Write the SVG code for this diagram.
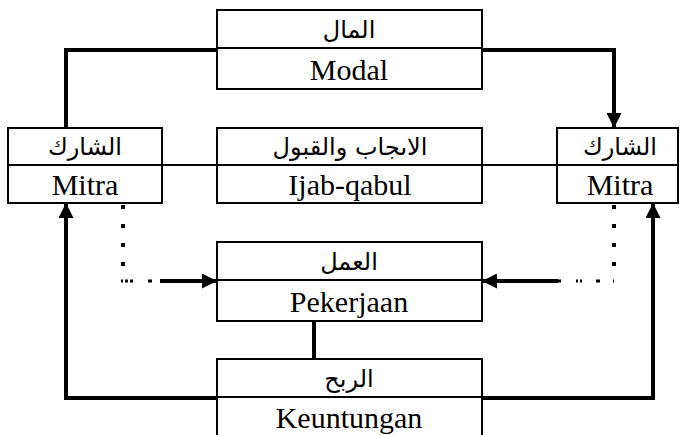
<svg xmlns="http://www.w3.org/2000/svg" width="682" height="435" viewBox="0 0 682 435">
  <defs>
    <style>
      .box { fill: #fff; stroke: #000; stroke-width: 2; }
      .div { stroke: #000; stroke-width: 2; }
      .lat { font-family: "Liberation Serif", "Times New Roman", serif; font-size: 30px; text-anchor: middle; fill: #000; }
      .ara { font-family: "DejaVu Sans", sans-serif; font-size: 24px; text-anchor: middle; fill: #000; }
      .thick { fill: none; stroke: #000; stroke-width: 4; }
      .thin { fill: none; stroke: #000; stroke-width: 2; }
      .dot { fill: none; stroke: #000; stroke-width: 4; stroke-dasharray: 4 15; }
      .doth { fill: none; stroke: #000; stroke-width: 3; }
    </style>
    <marker id="arr" viewBox="0 0 10 10" refX="10" refY="5" markerWidth="17" markerHeight="15" markerUnits="userSpaceOnUse" orient="auto">
      <path d="M0,0 L10,5 L0,10 Z" fill="#000"/>
    </marker>
  </defs>

  <!-- connectors -->
  <g id="connectors">
    <!-- capital to partners -->
    <polyline class="thick" points="217,50 66,50 66,128"/>
    <polyline class="thick" points="482,50 614,50 614,128" marker-end="url(#arr)"/>
    <!-- contract line through the partners -->
    <line class="thin" x1="162" y1="165" x2="217" y2="165"/>
    <line class="thin" x1="482" y1="165" x2="557" y2="165"/>
    <!-- profit back to partners -->
    <polyline class="thick" points="217,398 66,398 66,203" marker-end="url(#arr)"/>
    <polyline class="thick" points="482,398 653,398 653,203" marker-end="url(#arr)"/>
    <!-- work to profit -->
    <line class="thick" x1="314" y1="321" x2="314" y2="359"/>
    <!-- partners' work (dotted then solid) -->
    <line class="dot" x1="123" y1="205" x2="123" y2="268"/>
    <path class="doth" d="M121,281 h2 M125,281 h3 M130,281 h3 M148,281 h4"/>
    <line class="thick" x1="160" y1="281" x2="217" y2="281" marker-end="url(#arr)"/>
    <line class="dot" x1="614" y1="205" x2="614" y2="268"/>
    <path class="doth" d="M613,281 h1 M596,281 h4 M576,281 h2 M580,281 h2 M558,281 h3"/>
    <line class="thick" x1="558" y1="281" x2="482" y2="281" marker-end="url(#arr)"/>
  </g>

  <!-- capital -->
  <g id="node-modal">
    <rect class="box" x="217" y="10" width="265" height="79"/>
    <line class="div" x1="217" y1="48" x2="482" y2="48"/>
    <text class="ara" x="349" y="38" direction="rtl">المال</text>
    <text class="lat" x="349" y="80">Modal</text>
  </g>

  <!-- partner left -->
  <g id="node-mitra-left">
    <rect class="box" x="8" y="128" width="154" height="75"/>
    <line class="div" x1="8" y1="165" x2="162" y2="165"/>
    <text class="ara" x="85" y="155" direction="rtl">الشارك</text>
    <text class="lat" x="85" y="195">Mitra</text>
  </g>

  <!-- offer and acceptance -->
  <g id="node-ijab">
    <rect class="box" x="217" y="128" width="265" height="75"/>
    <line class="div" x1="217" y1="165" x2="482" y2="165"/>
    <text class="ara" x="350" y="155" direction="rtl">الاىجاب والقبول</text>
    <text class="lat" x="350" y="195">Ijab-qabul</text>
  </g>

  <!-- partner right -->
  <g id="node-mitra-right">
    <rect class="box" x="557" y="128" width="121" height="75"/>
    <line class="div" x1="557" y1="165" x2="678" y2="165"/>
    <text class="ara" x="620" y="155" direction="rtl">الشارك</text>
    <text class="lat" x="620" y="195">Mitra</text>
  </g>

  <!-- work -->
  <g id="node-pekerjaan">
    <rect class="box" x="217" y="242" width="265" height="79"/>
    <line class="div" x1="217" y1="280" x2="482" y2="280"/>
    <text class="ara" x="349" y="270" direction="rtl">العمل</text>
    <text class="lat" x="349" y="312">Pekerjaan</text>
  </g>

  <!-- profit -->
  <g id="node-keuntungan">
    <rect class="box" x="217" y="359" width="265" height="90"/>
    <line class="div" x1="217" y1="397" x2="482" y2="397"/>
    <text class="ara" x="349" y="387" direction="rtl">الربح</text>
    <text class="lat" x="349" y="428">Keuntungan</text>
  </g>
</svg>
